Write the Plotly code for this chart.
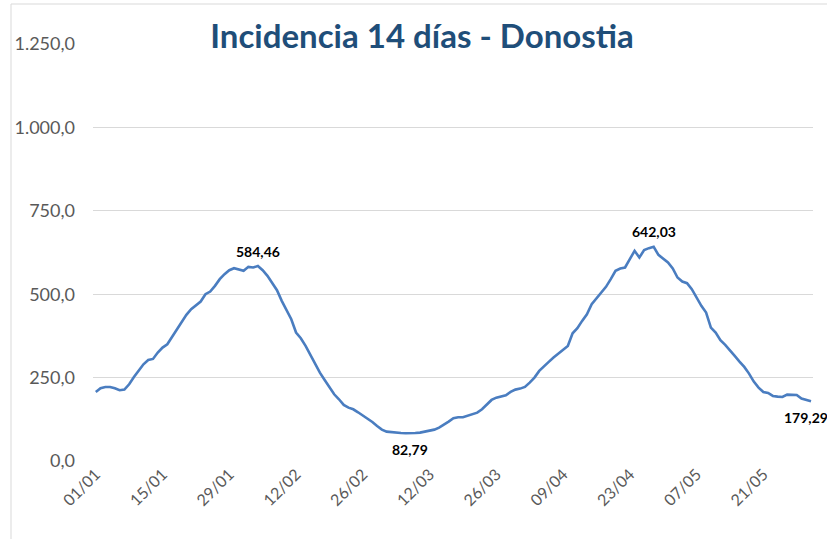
import pandas as pd
import plotly.graph_objects as go

# Daily 14-day incidence, Donostia, 01/01 - 31/05 (2021)
start_date = "2021-01-01"
enero = [207, 218, 222, 222, 218, 212, 214, 230, 252, 270, 290, 303, 306, 325, 340, 350,
         372, 392, 415, 438, 455, 468, 478, 500, 508, 525, 545, 560, 572, 578, 575]
febrero = [570, 582, 580, 584.46, 572, 555, 532, 512, 480, 450, 425, 385, 368, 345, 318,
           295, 265, 243, 220, 200, 185, 168, 160, 155, 146, 137, 126, 117]
marzo = [105, 94, 88, 86, 85, 84, 83, 82.79, 84, 85, 88, 91, 94, 100, 108, 118, 128, 131,
         131, 135, 139, 145, 155, 170, 183, 190, 194, 197, 207, 214, 217]
abril = [222, 235, 250, 270, 285, 297, 310, 322, 335, 345, 383, 398, 420, 440, 470, 487,
         505, 522, 545, 570, 577, 580, 605, 630, 610, 632, 638, 642.03, 618, 607]
mayo = [595, 577, 550, 538, 533, 515, 490, 465, 445, 400, 385, 362, 348, 330, 315, 298,
        282, 262, 238, 220, 207, 204, 195, 193, 192, 199, 199, 198, 187, 183, 179.29]

values = enero + febrero + marzo + abril + mayo
dates = pd.date_range(start_date, periods=len(values), freq="D")

tick_labels = ["01/01", "15/01", "29/01", "12/02", "26/02", "12/03", "26/03",
               "09/04", "23/04", "07/05", "21/05"]
tick_dates = pd.date_range(start_date, periods=len(tick_labels), freq="14D")

y_ticks = [0, 250, 500, 750, 1000, 1250]

# labelled points: (date, value, text, position)
label_dates = ["2021-02-04", "2021-03-08", "2021-04-28", "2021-05-31"]
label_values = [584.46, 82.79, 642.03, 179.29]
label_texts = ["584,46", "82,79", "642,03", "179,29"]
label_above = [True, False, True, False]
label_xshift = [0, 0, 0, -5]

fig = go.Figure()
fig.add_trace(go.Scatter(
    x=dates, y=values, mode="lines",
    line=dict(color="#4A7DC0", width=2.6),
    hoverinfo="skip", showlegend=False,
))

for d, v, t, above, xs in zip(label_dates, label_values, label_texts, label_above, label_xshift):
    fig.add_annotation(
        x=d, y=v, text=f"<b>{t}</b>", showarrow=False,
        yshift=15 if above else -16, xshift=xs,
        font=dict(family="Lato", size=14, color="#000000"),
    )

W, H = 827, 539
ml, mr, mt, mb = 93, 14, 44, 78
pw, ph = W - ml - mr, H - mt - mb

def px_x(x):
    return (x - ml) / pw

def px_y(y):
    return (H - mb - y) / ph

# chart-area border (left and top edges visible)
fig.add_shape(type="line", xref="paper", yref="paper",
              x0=px_x(11), x1=px_x(11), y0=px_y(4), y1=px_y(545),
              line=dict(color="#D9D9D9", width=1))
fig.add_shape(type="line", xref="paper", yref="paper",
              x0=px_x(11), x1=px_x(840), y0=px_y(4), y1=px_y(4),
              line=dict(color="#D9D9D9", width=1))

fig.update_layout(
    width=W, height=H,
    margin=dict(l=ml, r=mr, t=mt, b=mb),
    paper_bgcolor="white", plot_bgcolor="white",
    separators=",.",
    font=dict(family="Lato", color="#595959", size=16),
    title=dict(
        text="<b>Incidencia 14 días - Donostia</b>",
        x=422 / W, xanchor="center",
        y=1 - 36 / H, yanchor="middle",
        font=dict(family="Lato", size=33, color="#1F4E79"),
    ),
    xaxis=dict(
        range=[pd.Timestamp("2021-01-01") - pd.Timedelta(hours=14),
               pd.Timestamp("2021-05-31") + pd.Timedelta(hours=10)],
        tickvals=tick_dates, ticktext=tick_labels, tickangle=-45,
        showgrid=False, showline=False, zeroline=False, ticks="",
        tickfont=dict(size=16, color="#595959"),
    ),
    yaxis=dict(
        range=[0, 1250], tickvals=y_ticks, tickformat=",.1f",
        showgrid=True, gridcolor="#D9D9D9", gridwidth=1,
        zeroline=False, showline=False, ticks="",
        ticklabelstandoff=17,
        tickfont=dict(size=18, color="#595959"),
    ),
)

fig.write_html("out.html",
               config={"displayModeBar": False, "staticPlot": True},
               post_script="document.body.style.margin='0';document.body.style.overflow='hidden';")
